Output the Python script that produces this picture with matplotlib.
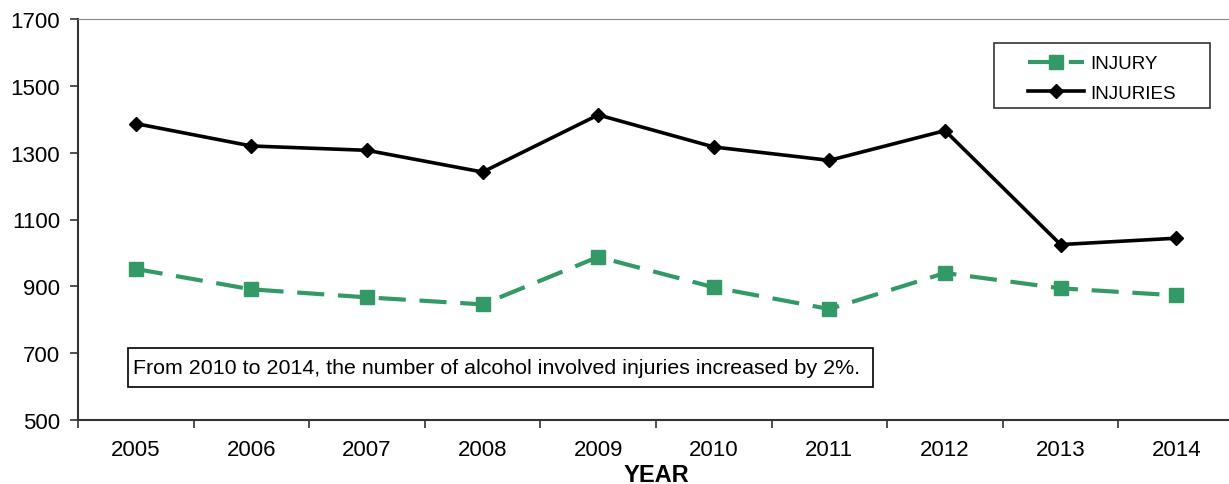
import matplotlib.pyplot as plt
from matplotlib.patches import Rectangle
import numpy as np

plt.rcParams['font.family'] = ['Liberation Sans', 'DejaVu Sans']

# Data
years = ['2005', '2006', '2007', '2008', '2009', '2010', '2011', '2012', '2013', '2014']
injury = [952, 891, 867, 846, 988, 897, 832, 940, 894, 873]
injuries = [1387, 1320, 1307, 1242, 1413, 1317, 1277, 1366, 1025, 1044]
yticks = [500, 700, 900, 1100, 1300, 1500, 1700]
note = 'From 2010 to 2014, the number of alcohol involved injuries increased by 2%.'

green = '#339966'

fig = plt.figure(figsize=(12.29, 4.85), dpi=100)
ax = fig.add_axes([78 / 1229, 64 / 485, 1156 / 1229, 401 / 485])

x = np.arange(len(years))
ax.plot(x, injury, color=green, lw=3, dashes=(6.5, 3.3), marker='s', markersize=9.5,
        label='INJURY')
ax.plot(x, injuries, color='black', lw=2.6, marker='D', markersize=7.5, label='INJURIES')

ax.set_ylim(500, 1700)
ax.set_yticks(yticks)
ax.set_xlim(-0.5, len(years) - 0.5)
ax.set_xticks(x)
ax.set_xticklabels(years)
ax.set_xticks(np.arange(-0.5, len(years), 1), minor=True)
ax.tick_params(axis='x', which='major', length=0, pad=14, labelsize=16)
ax.tick_params(axis='x', which='minor', length=6, width=1.2, color='#333333')
ax.tick_params(axis='y', length=6, width=1.2, color='#333333', labelsize=16, pad=7)
ax.set_xlabel('YEAR', fontsize=17, fontweight='bold', labelpad=2)

ax.spines['top'].set_color('#888888')
ax.spines['right'].set_visible(False)
for s in ['left', 'bottom']:
    ax.spines[s].set_color('#333333')
    ax.spines[s].set_linewidth(1.5)

# legend with a separately drawn frame
leg = ax.legend(loc='center left', bbox_to_anchor=((1028 - 78) / 1156, (421 - 79.5) / 401),
                fontsize=13.5, frameon=False, handlelength=3.0, handletextpad=0.3,
                borderpad=0, borderaxespad=0, labelspacing=0.68)
ax.add_patch(Rectangle(((994 - 78) / 1156, (421 - 109) / 401), 216 / 1156, 65 / 401,
                       transform=ax.transAxes, fill=False, ec='#333333', lw=1.2, zorder=5))

# note box
ax.add_patch(Rectangle(((128 - 78) / 1156, (421 - 388) / 401), 745 / 1156, 39 / 401,
                       transform=ax.transAxes, fc='white', ec='black', lw=1.2, zorder=5))
ax.text((133 - 78) / 1156, (421 - 368.5) / 401, note, transform=ax.transAxes,
        fontsize=15.4, va='center', ha='left', zorder=6)

fig.savefig('out.png', dpi=100)
